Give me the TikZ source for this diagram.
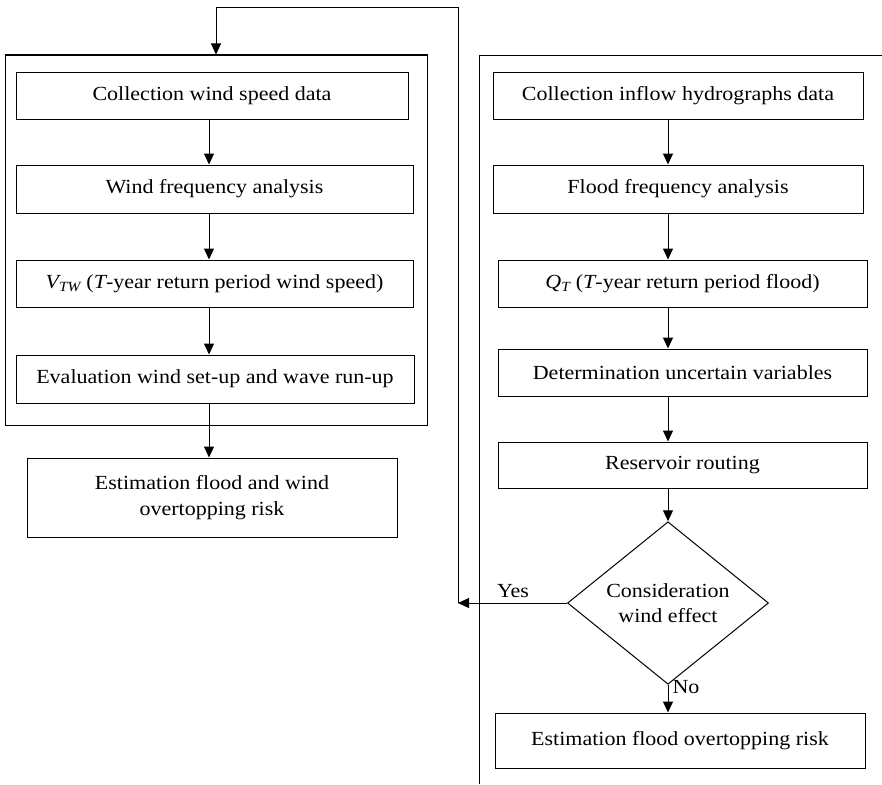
\documentclass[tikz,border=0pt]{standalone}
\usepackage{fontspec}
\setmainfont[FakeStretch=1.1]{Liberation Serif}
\usetikzlibrary{arrows.meta,shapes.geometric}
\begin{document}
\begin{tikzpicture}[x=1pt,y=-1pt,line width=1pt,
  box/.style={draw,rectangle,inner sep=0pt,align=center,font=\fontsize{20}{26}\selectfont},
  dia/.style={draw,diamond,inner sep=0pt,align=center,font=\fontsize{20}{25}\selectfont},
  lbl/.style={inner sep=0pt,font=\fontsize{20}{24}\selectfont},
  arr/.style={-{Triangle[length=11pt,width=10pt]}}]
\useasboundingbox (0,0) rectangle (882,784);

% frames
\node[draw,rectangle,inner sep=0pt,minimum width=422pt,minimum height=370pt] (frameL) at (216,240) {};
\coordinate (fr1) at (882,55);
\coordinate (fr2) at (479,55);
\coordinate (fr3) at (479,784);
\draw (fr1) -- (fr2) -- (fr3);

% left column
\node[box,minimum width=392pt,minimum height=47pt] (L1) at (212,95.5) {Collection wind speed data};
\node[box,minimum width=397pt,minimum height=48pt] (L2) at (214.5,189) {Wind frequency analysis};
\node[box,minimum width=397pt,minimum height=47pt] (L3) at (214.5,283.5) {{\itshape V}\textsubscript{\itshape TW} ({\itshape T}-year return period wind speed)};
\node[box,minimum width=398pt,minimum height=48pt] (L4) at (215,379) {Evaluation wind set-up and wave run-up};
\node[box,minimum width=370pt,minimum height=79pt] (L5) at (212,497.5) {Estimation flood and wind\\overtopping risk};

% right column
\node[box,minimum width=370pt,minimum height=47pt] (R1) at (678,95.5) {Collection inflow hydrographs data};
\node[box,minimum width=370pt,minimum height=48pt] (R2) at (678,189) {Flood frequency analysis};
\node[box,minimum width=369pt,minimum height=47pt] (R3) at (682.5,283.5) {{\itshape Q}\textsubscript{\itshape T} ({\itshape T}-year return period flood)};
\node[box,minimum width=369pt,minimum height=47pt] (R4) at (682.5,372.5) {Determination uncertain variables};
\node[box,minimum width=369pt,minimum height=46pt] (R5) at (682.5,465) {Reservoir routing};
\node[dia,minimum width=201pt,minimum height=130pt] (D) at (668,603) {Consideration\\wind effect};
\node[box,minimum width=370pt,minimum height=55pt] (R6) at (680,740.5) {Estimation flood overtopping risk};

\node[lbl] (yes) at (513,591) {Yes};
\node[lbl] (no) at (686,687) {No};

% column guides
\coordinate (cl) at (209,0);
\coordinate (cr) at (668,0);

% left arrows
\draw[arr] (L1.south -| cl) -- (L2.north -| cl);
\draw[arr] (L2.south -| cl) -- (L3.north -| cl);
\draw[arr] (L3.south -| cl) -- (L4.north -| cl);
\draw[arr] (L4.south -| cl) -- (L5.north -| cl);

% right arrows
\draw[arr] (R1.south -| cr) -- (R2.north -| cr);
\draw[arr] (R2.south -| cr) -- (R3.north -| cr);
\draw[arr] (R3.south -| cr) -- (R4.north -| cr);
\draw[arr] (R4.south -| cr) -- (R5.north -| cr);
\draw[arr] (R5.south -| cr) -- (D.north);
\draw[arr] (D.south) -- (R6.north -| D.south);

% yes loop
\coordinate (ret) at (458,603);
\coordinate (topc) at (458,8);
\draw[arr] (D.west) -- (ret);
\draw[arr] (ret) -- (topc) -| (frameL.north);
\end{tikzpicture}
\end{document}
